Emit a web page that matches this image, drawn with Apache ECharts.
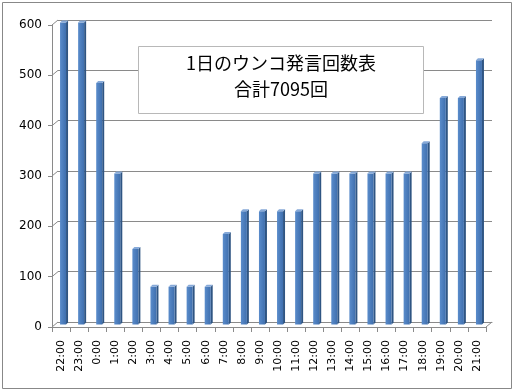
<!DOCTYPE html>
<html>
<head>
<meta charset="utf-8">
<script src="https://cdn.jsdelivr.net/npm/echarts@6/dist/echarts.min.js"></script>
<style>
html,body{margin:0;padding:0;background:#fff;}
#c{width:514px;height:390px;}
</style>
</head>
<body>
<div id="c"></div>
<script>
const categories = ['22:00','23:00','0:00','1:00','2:00','3:00','4:00','5:00','6:00','7:00','8:00','9:00','10:00','11:00','12:00','13:00','14:00','15:00','16:00','17:00','18:00','19:00','20:00','21:00'];
const counts = [600,600,480,300,150,75,75,75,75,180,225,225,225,225,300,300,300,300,300,300,360,450,450,525];
const yTicks = [0,100,200,300,400,500,600];
const titleLines = ['1日のウンコ発言回数表','合計7095回'];

const DX = 6, DY = -5;   // depth offset of back wall
const chart = echarts.init(document.getElementById('c'), null, {renderer:'canvas'});
const gridColor = '#8a8a8a';

chart.setOption({
  animation: false,
  backgroundColor: '#fff',
  grid: [
    {left: 52, right: 28, top: 25, bottom: 63},
    {left: 52 + DX, right: 28 - DX, top: 25 + DY, bottom: 63 - DY}
  ],
  xAxis: [
    {gridIndex: 0, type: 'category', data: categories, boundaryGap: true,
     axisLine: {show: true, lineStyle: {color: gridColor}},
     axisTick: {show: true, length: 5, lineStyle: {color: gridColor}},
     axisLabel: {rotate: 90, margin: 13, color: '#000', fontFamily: 'DejaVu Sans', fontSize: 11, interval: 0},
     splitLine: {show: false}},
    {gridIndex: 1, type: 'category', data: categories, boundaryGap: true,
     axisLine: {show: true, lineStyle: {color: gridColor}},
     axisTick: {show: false}, axisLabel: {show: false}, splitLine: {show: false}}
  ],
  yAxis: [
    {gridIndex: 0, type: 'value', min: 0, max: 600, interval: 100,
     axisLine: {show: true, lineStyle: {color: gridColor}},
     axisTick: {show: true, length: 4, lineStyle: {color: gridColor}},
     axisLabel: {margin: 10, color: '#000', fontFamily: 'DejaVu Sans', fontSize: 12},
     splitLine: {show: false}},
    {gridIndex: 1, type: 'value', min: 0, max: 600, interval: 100,
     axisLine: {show: false}, axisTick: {show: false}, axisLabel: {show: false},
     splitLine: {show: true, lineStyle: {color: gridColor, width: 1}}}
  ],
  graphic: [
    {type: 'rect', shape: {x: 2.5, y: 2.5, width: 509, height: 386},
     style: {fill: null, stroke: '#888', lineWidth: 1}, z: 100},
    {type: 'rect', shape: {x: 138.5, y: 46.5, width: 285, height: 67},
     style: {fill: '#fff', stroke: '#b8b8b8', lineWidth: 1}, z: 50},
    {type: 'text', x: 281, y: 76, z: 51,
     style: {text: titleLines.join('\n'), fill: '#000', font: '18px "Noto Sans CJK JP"',
             align: 'center', verticalAlign: 'middle', lineHeight: 26}}
  ],
  series: [
    {
      type: 'custom', xAxisIndex: 0, yAxisIndex: 0, z: 3,
      data: yTicks.map(v => [0, v]),
      encode: {x: 0, y: 1},
      renderItem: function (params, api) {
        const cs = params.coordSys;
        const y = api.coord([0, api.value(1)])[1];
        const x0 = cs.x;
        const children = [{type: 'line', shape: {x1: x0, y1: y, x2: x0 + DX, y2: y + DY},
          style: {stroke: gridColor, lineWidth: 1}}];
        if (api.value(1) === 0) {
          const xr = cs.x + cs.width;
          children.push({type: 'line', shape: {x1: xr, y1: y, x2: xr + DX, y2: y + DY},
            style: {stroke: gridColor, lineWidth: 1}});
        }
        return {type: 'group', children: children};
      }
    },
    {
      type: 'custom', xAxisIndex: 0, yAxisIndex: 0, z: 5,
      data: counts.map((v, i) => [i, v]),
      encode: {x: 0, y: 1},
      renderItem: function (params, api) {
        const base = api.coord([api.value(0), 0]);
        const top = api.coord([api.value(0), api.value(1)]);
        const cx = base[0] + 2.5;
        const y0 = base[1] - 2.5, y1 = top[1] - 2.5;
        const l = cx - 3.5, r = cx + 2.5, sd = 2;
        return {type: 'group', children: [
          {type: 'polygon', shape: {points: [[r, y1], [r + sd, y1 - sd], [r + sd, y0 - sd], [r, y0]]},
           style: {fill: '#2f5583'}},
          {type: 'rect', shape: {x: l, y: y1, width: r - l, height: y0 - y1},
           style: {fill: new echarts.graphic.LinearGradient(0, 0, 1, 0, [
             {offset: 0, color: '#5a8ccb'}, {offset: 1, color: '#3f6fae'}])}},
          {type: 'polygon', shape: {points: [[l, y1], [l + sd, y1 - sd], [r + sd, y1 - sd], [r, y1]]},
           style: {fill: '#86a9d8'}}
        ]};
      }
    }
  ]
});
</script>
</body>
</html>
